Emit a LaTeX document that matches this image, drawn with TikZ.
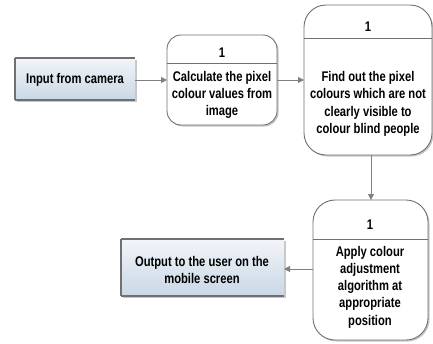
\documentclass[tikz,border=0pt]{standalone}
\usepackage{fontspec}
\setmainfont[FakeStretch=0.8]{Liberation Sans}
\usetikzlibrary{arrows.meta,shadows}
\definecolor{edge}{HTML}{707070}
\definecolor{extop}{HTML}{F2F5F8}
\definecolor{exbot}{HTML}{C9D7E6}
\tikzset{
  procbox/.style={draw=edge, line width=0.9pt, fill=white, rounded corners=#1,
    drop shadow={shadow xshift=1.5pt, shadow yshift=-1.5pt, opacity=0.45, fill=gray}},
  extbox/.style={fill, top color=extop, bottom color=exbot, draw=none,
    drop shadow={shadow xshift=1.5pt, shadow yshift=-1.5pt, opacity=0.45, fill=gray}},
  flow/.style={draw=gray, line width=0.8pt, -{Triangle[length=6pt,width=6pt]}},
  lbl/.style={font=\bfseries\fontsize{14}{17.3}\selectfont, align=center, text=black},
}
\begin{document}
\begin{tikzpicture}[x=1pt,y=-1pt]
\useasboundingbox (0,0) rectangle (433,343);
% input box
\path[extbox] (15,58) rectangle (135,100);
\draw[edge, line width=1.6pt] (15,58) -- (135,58);
\draw[edge, line width=1.6pt] (15,100) -- (135,100);
\draw[edge, line width=1.2pt] (15,58) -- (15,100);
\node[lbl] (in) at (75,80) {Input from camera};
\coordinate (inR) at (135,80);
% calc box
\draw[procbox=14pt] (167,35) rectangle (277,125);
\draw[edge, line width=0.6pt] (167,63) -- (277,63);
\node[lbl] (c1) at (222,53) {1};
\node[lbl] (calc) at (222,95) {Calculate the pixel\\colour values from\\image};
\coordinate (calcL) at (167,80);
\coordinate (calcR) at (277,80);
% find box
\draw[procbox=22pt] (304,5) rectangle (432,155);
\draw[edge, line width=0.6pt] (304,38) -- (432,38);
\node[lbl] (f1) at (368,27) {1};
\node[lbl] (find) at (368,104) {Find out the pixel\\colours which are not\\clearly visible to\\colour blind people};
\coordinate (findL) at (304,80);
\coordinate (findB) at (371,155);
% apply box
\draw[procbox=22pt] (313,200) rectangle (428,340);
\draw[edge, line width=0.6pt] (313,239) -- (428,239);
\node[lbl] (a1) at (370,225) {1};
\node[lbl] (apply) at (370,287) {Apply colour\\adjustment\\algorithm at\\appropriate\\position};
\coordinate (applyT) at (371,200);
\coordinate (applyL) at (313,269);
% output box
\path[extbox] (121,239) rectangle (284,296);
\draw[edge, line width=1.6pt] (121,239) -- (284,239);
\draw[edge, line width=1.6pt] (121,296) -- (284,296);
\draw[edge, line width=1.2pt] (121,239) -- (121,296);
\node[lbl] (out) at (202,270) {Output to the user on the\\mobile screen};
\coordinate (outR) at (284,269);
% connectors
\draw[flow] (inR) -- (calcL);
\draw[flow] (calcR) -- (findL);
\draw[flow] (findB) -- (applyT);
\draw[flow] (applyL) -- (outR);
\end{tikzpicture}
\end{document}
